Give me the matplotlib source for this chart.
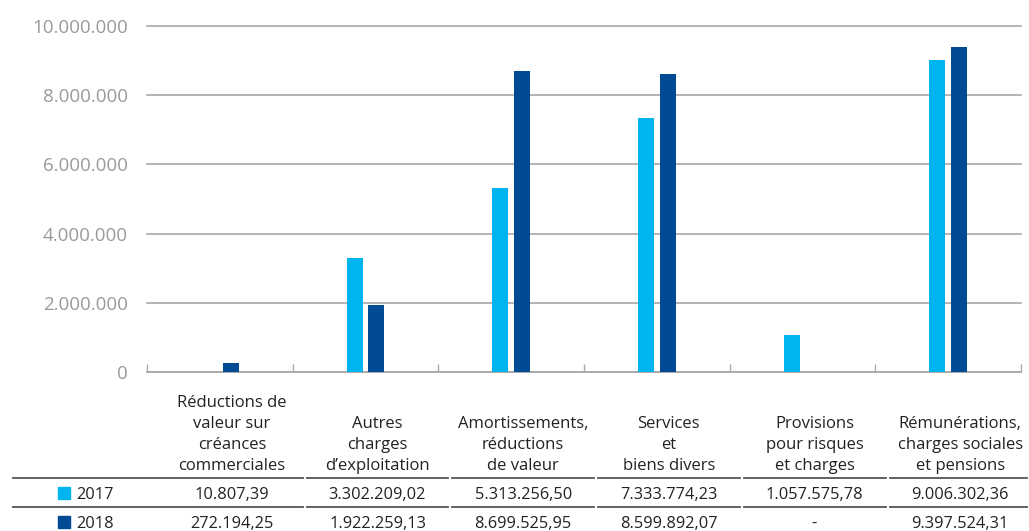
import matplotlib
matplotlib.use("Agg")
import matplotlib.pyplot as plt
import matplotlib.transforms as mtransforms
from matplotlib.patches import Rectangle
import numpy as np

plt.rcParams["font.family"] = ["Open Sans", "DejaVu Sans"]

categories = [
    "Réductions de\nvaleur sur\ncréances\ncommerciales",
    "Autres\ncharges\nd\u2019exploitation",
    "Amortissements,\nréductions\nde valeur",
    "Services\net\nbiens divers",
    "Provisions\npour risques\net charges",
    "Rémunérations,\ncharges sociales\net pensions",
]
years = ["2017", "2018"]
values_2017 = [10807.39, 3302209.02, 5313256.50, 7333774.23, 1057575.78, 9006302.36]
values_2018 = [272194.25, 1922259.13, 8699525.95, 8599892.07, None, 9397524.31]
yticks = [0, 2000000, 4000000, 6000000, 8000000, 10000000]

COL_2017 = "#00B5EF"
COL_2018 = "#004B93"
TXT = "#222222"


def fmt_eu(v, dec=2):
    if v is None:
        return "-"
    s = f"{v:,.{dec}f}"
    return s.replace(",", "X").replace(".", ",").replace("X", ".")


fig = plt.figure(figsize=(10.29, 5.31), dpi=100)
ax = fig.add_axes([147 / 1029, 1 - 372 / 531, 874 / 1029, 346 / 531])

x = np.arange(len(categories))
w = 0.11
off = 0.075
h17 = [v if v is not None else 0 for v in values_2017]
h18 = [v if v is not None else 0 for v in values_2018]
ax.bar(x - off, h17, w, color=COL_2017, zorder=3)
ax.bar(x + off, h18, w, color=COL_2018, zorder=3)

ax.set_xlim(-0.5, len(categories) - 0.5)
ax.set_ylim(0, 10000000)
ax.set_yticks(yticks)
ax.set_yticklabels([fmt_eu(t, 0) for t in yticks], color="#9a9a9a", fontsize=13.5)
ax.tick_params(axis="y", length=0, pad=14)
ax.set_xticks(np.arange(-0.5, len(categories), 1.0))
ax.set_xticklabels([])
ax.tick_params(axis="x", direction="in", length=6, color="#aaaaaa", width=1)
for s in ["top", "right", "left"]:
    ax.spines[s].set_visible(False)
ax.spines["bottom"].set_color("#aaaaaa")
ax.spines["bottom"].set_linewidth(1.2)
ax.yaxis.grid(True, color="#a0a0a0", linewidth=1.1, zorder=0)
for gl in ax.yaxis.get_gridlines():
    gl.set_clip_on(False)

# table below the chart
tr = mtransforms.blended_transform_factory(ax.transData, fig.transFigure)
tshift = 12 / 145.7
for i, cat in enumerate(categories):
    fig.text(i + tshift, 1 - 470 / 531, cat, transform=tr, ha="center", va="baseline",
             fontsize=12, linespacing=1.42, color=TXT)
    fig.text(i + tshift, 1 - 499 / 531, fmt_eu(values_2017[i]), transform=tr,
             ha="center", va="baseline", fontsize=11.8, color=TXT)
    fig.text(i + tshift, 1 - 528 / 531, fmt_eu(values_2018[i]), transform=tr,
             ha="center", va="baseline", fontsize=11.8, color=TXT)

# row separators, split per column
px = 145.7
bounds = [13] + [232 - 73 + px * k for k in range(1, 7)]
bounds[-1] = 1029
for yl in [477.5, 506.5]:
    for k in range(len(bounds) - 1):
        x0 = bounds[k] + (2 if k > 0 else 0)
        x1 = bounds[k + 1] - 2
        fig.add_artist(plt.Line2D([x0 / 1029, x1 / 1029], [1 - yl / 531] * 2,
                                  transform=fig.transFigure, color="#555555", lw=1.3))

# row labels with legend squares
for yr, col, yb in [(years[0], COL_2017, 499), (years[1], COL_2018, 528)]:
    fig.add_artist(Rectangle((58 / 1029, 1 - yb / 531), 12 / 1029, 12 / 531,
                             transform=fig.transFigure, color=col))
    fig.text(76 / 1029, 1 - yb / 531, yr, ha="left", va="baseline", fontsize=11.8,
             color=TXT)

fig.savefig("out.png", dpi=100)
